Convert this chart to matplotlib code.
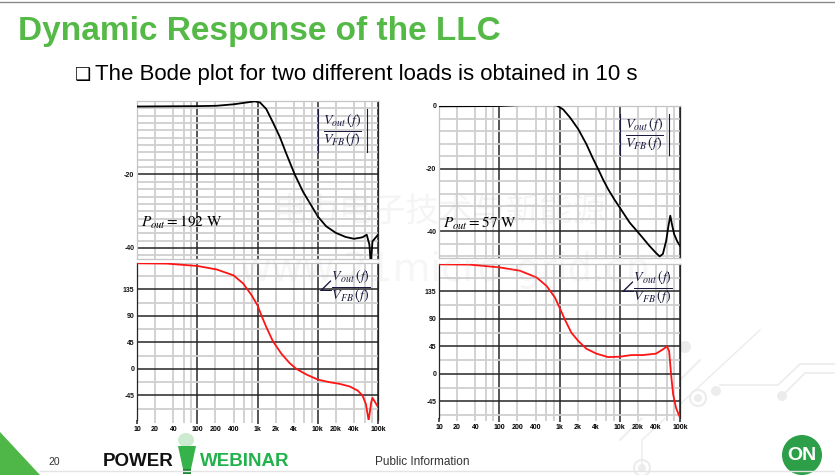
import numpy as np
import matplotlib.pyplot as plt
from matplotlib.ticker import FixedLocator, FixedFormatter, NullFormatter
from matplotlib.patches import Circle, Polygon, Rectangle, Ellipse

plt.rcParams['mathtext.fontset'] = 'stix'

W, H = 835, 475

# ---- data (Hz, dB / deg) ----
# Pout = 192 W
f_mag_192 = [10, 100, 210, 400, 660, 900, 1100, 1400, 1800, 2350, 3000, 4150, 5700, 7400,
             10000, 13800, 20000, 29000, 40000, 55000, 65000, 72000, 76000, 81000, 100000]
mag_192 = [-1.5, -1.4, -1.3, -0.9, -0.4, -0.1, -0.4, -2.2, -5.8, -9.8, -14.3, -20, -24.7, -27.8,
           -31.4, -34.1, -35.9, -37.0, -37.5, -37.1, -36.4, -39.1, -44.5, -38.2, -36.4]

f_ph_192 = [10, 31, 100, 210, 400, 580, 800, 1000, 1160, 1400, 1800, 2500, 3400, 4400, 6500,
            10000, 15600, 23000, 34000, 46000, 55000, 63000, 70000, 77000, 81000, 90000, 100000]
ph_192 = [179.5, 179, 175, 169, 159, 145, 125, 108, 91, 71, 47, 25.5, 10, 0, -9.7,
          -18.2, -22.7, -25.5, -30, -37, -45, -60, -88, -57, -49.4, -57, -65]

# Pout = 57 W
f_mag_57 = [10, 100, 220, 540, 900, 1150, 1500, 2050, 2800, 3500, 4400, 5300, 6400, 8000,
            10000, 14600, 21400, 31000, 40000, 46000, 52000, 59000, 64000, 69000, 74000,
            80000, 90000, 100000]
mag_57 = [-0.1, 0, 0.3, 0.5, 0.2, -1.1, -3.7, -7.4, -12.2, -16.3, -20.2, -23.5, -26.5, -29.6,
          -32.4, -37.2, -40.9, -44.6, -46.9, -48.0, -47.2, -43.0, -38.5, -35.0, -38.0,
          -40.9, -43.2, -44.6]

f_ph_57 = [10, 32, 100, 220, 415, 610, 840, 1000, 1220, 1570, 2050, 2800, 4100, 6400, 10000,
           15600, 24000, 40000, 52000, 61000, 66000, 72000, 77000, 86000, 100000]
ph_57 = [179.5, 179, 174.5, 169, 158, 144, 125, 108.7, 89.5, 67.5, 53.8, 41, 33, 27.4, 28,
         30.7, 30.7, 33, 40, 45, 37, -6.6, -34, -56, -72]

x_ticks_major = [10, 100, 1000, 10000, 100000]
x_labels_major = ['10', '100', '1k', '10k', '100k']
x_minor = [m * d for d in [10, 100, 1000, 10000] for m in (2, 4, 6, 8)]
x_minor_shown = (2, 4)

fig = plt.figure(figsize=(W / 100, H / 100), dpi=100)

# background layer in pixel coordinates
bg = fig.add_axes([0, 0, 1, 1], zorder=0)
bg.set_xlim(0, W)
bg.set_ylim(H, 0)
bg.axis('off')

deco = '#ececec'
bg.plot([0, W], [2, 2], color='#8a8a8a', lw=1)
bg.plot([40, W], [471, 471], color='#e4e4e4', lw=1)
# faint circuit traces
bg.plot([720, 778, 800, 835], [385, 385, 364, 364], color=deco, lw=1.2)
bg.plot([782, 805, 835], [396, 373, 373], color=deco, lw=1.2)
bg.plot([620, 663, 700], [440, 397, 360], color=deco, lw=1.2)
bg.plot([642, 642, 690, 760], [468, 440, 395, 330], color=deco, lw=1.0)
for cx, cy, r in [(685, 347, 6), (716, 391, 5), (782, 396, 5)]:
    bg.add_patch(Circle((cx, cy), r, color=deco, lw=0))
for cx, cy in [(698, 398), (663, 397), (642, 468)]:
    bg.add_patch(Circle((cx, cy), 8, fill=False, ec=deco, lw=1.5))
    bg.add_patch(Circle((cx, cy), 4, color=deco, lw=0))

# title & bullet
title_font = ['Liberation Sans Narrow', 'Liberation Sans', 'DejaVu Sans']
bg.text(18, 40, 'Dynamic Response of the LLC', color='#55b948', fontsize=24,
        fontweight='bold', family=title_font, va='baseline')
bg.text(75, 80, '\u2751', fontsize=13, family='DejaVu Sans', va='baseline', color='black')
bg.text(95, 80, 'The Bode plot for two different loads is obtained in 10 s', fontsize=16,
        family=title_font, va='baseline', color='black')

# footer
bg.add_patch(Polygon([(0, 432), (0, 475), (40, 475)], closed=True, color='#4fb747', lw=0))
bg.text(48, 465, '20', fontsize=7.5, family='Liberation Sans', va='baseline', color='#333333')
bg.text(103, 466, 'POWER', fontsize=13.5, fontweight='bold', family=title_font,
        va='baseline', color='#111111')
bg.text(200, 466, 'WEBINAR', fontsize=13.5, fontweight='bold', family=title_font,
        va='baseline', color='#21b24b')
bg.add_patch(Ellipse((186, 440), 16, 14, color='#cdebd1', lw=0))
bg.add_patch(Polygon([(178, 446), (196, 446), (191, 469), (183, 469)], closed=True,
                     color='#35b34a', lw=0))
bg.add_patch(Rectangle((183, 469), 8, 5, color='#1a8a34', lw=0))
bg.text(375, 465, 'Public Information', fontsize=8.5, family=title_font,
        va='baseline', color='#333333')
bg.add_patch(Circle((802, 455), 20, color='#2c9f48', lw=0))
bg.text(802, 456, 'ON', fontsize=14, fontweight='bold', family=title_font,
        color='white', ha='center', va='center')


def px_axes(x0, y0, x1, y1):
    return fig.add_axes([x0 / W, 1 - y1 / H, (x1 - x0) / W, (y1 - y0) / H], zorder=2)


def minor_label(v):
    e = int(np.floor(np.log10(v) + 1e-9))
    m = round(v / 10 ** e)
    if m not in x_minor_shown:
        return ''
    if v >= 1000:
        return f'{int(v / 1000)}k'
    return f'{int(v)}'


def bold_small(labels):
    for lab in labels:
        lab.set_fontweight('bold')
        lab.set_family('Liberation Sans')


def style(ax, ylim, ymajor, yminor, show_x):
    ax.set_xscale('log')
    ax.set_xlim(10, 100000)
    ax.set_ylim(*ylim)
    ax.xaxis.set_major_locator(FixedLocator(x_ticks_major))
    ax.xaxis.set_minor_locator(FixedLocator(x_minor))
    ax.yaxis.set_major_locator(FixedLocator(ymajor))
    ax.yaxis.set_minor_locator(FixedLocator(yminor))
    ax.yaxis.set_major_formatter(FixedFormatter([f'{v:g}' for v in ymajor]))
    ax.yaxis.set_minor_formatter(NullFormatter())
    ax.grid(True, which='minor', color='#cfcfcf', lw=1.3)
    ax.grid(True, which='major', color='#262626', lw=1.1)
    ax.set_axisbelow(True)
    for s in ax.spines.values():
        s.set_color('#c4c4c4')
        s.set_linewidth(0.9)
    ax.spines['right'].set_color('#262626')
    ax.tick_params(axis='y', which='both', length=0, pad=2, labelsize=5,
                   labelcolor='#111111')
    bold_small(ax.get_yticklabels())
    if show_x:
        ax.spines['left'].set_color('#262626')
        ax.spines['bottom'].set_visible(False)
        ax.xaxis.set_major_formatter(FixedFormatter(x_labels_major))
        ax.xaxis.set_minor_formatter(FixedFormatter([minor_label(v) for v in x_minor]))
        ax.tick_params(axis='x', which='major', length=3, width=1.1, color='#262626',
                       pad=1.5, labelsize=5)
        ax.tick_params(axis='x', which='minor', length=2, width=1.3, color='#cfcfcf',
                       pad=2.5, labelsize=5)
        bold_small(ax.get_xticklabels(which='both'))
    else:
        ax.xaxis.set_major_formatter(NullFormatter())
        ax.xaxis.set_minor_formatter(NullFormatter())
        ax.tick_params(axis='x', which='both', length=0)


mag_fmt = r'$\frac{V_{out}\,(f)}{V_{FB}\,(f)}$'
ph_fmt = r'$\angle\frac{V_{out}\,(f)}{V_{FB}\,(f)}$'
fcol = '#1a1a40'

panels = [
    # x0, x1, mag (y0, y1), phase (y0, y1), data, limits, label
    (137, 378, (101, 259), (263, 420), f_mag_192, mag_192, f_ph_192, ph_192,
     (-43, 0), [-20, -40], list(np.arange(-42, 1, 2)), (-87, 180), r'$P_{out}=192\ \mathrm{W}$'),
    (439, 680, (106, 258), (264, 418), f_mag_57, mag_57, f_ph_57, ph_57,
     (-48.5, 0), [0, -20, -40], list(np.arange(-48, 1, 4)), (-72.5, 180), r'$P_{out}=57\ \mathrm{W}$'),
]

for (x0, x1, my, py, fm, m, fp, p, mlim, mmaj, mmin, plim, plabel) in panels:
    axm = px_axes(x0, my[0], x1, my[1])
    style(axm, mlim, mmaj, mmin, False)
    axm.plot(fm, m, color='black', lw=1.3, zorder=3)
    axm.text(0.852, 0.815, mag_fmt, transform=axm.transAxes, fontsize=14.5, color=fcol,
             ha='center', va='center')
    # thin |..| bars around the magnitude expression
    for bx in (0.75, 0.955):
        axm.plot([bx, bx], [0.68, 0.95], transform=axm.transAxes, color=fcol, lw=0.8,
                 zorder=4)
    axm.text(0.015, 0.23, plabel, transform=axm.transAxes, fontsize=11, color='black',
             ha='left', va='center')

    axp = px_axes(x0, py[0], x1, py[1])
    style(axp, plim, [135, 90, 45, 0, -45], list(np.arange(-67.5, 181, 22.5)), True)
    axp.plot(fp, p, color='#ff1414', lw=1.3, zorder=3)
    axp.text(0.86, 0.85, ph_fmt, transform=axp.transAxes, fontsize=14.5, color=fcol,
             ha='center', va='center')

# faint watermark over the plots
wm = fig.add_axes([0, 0, 1, 1], zorder=5)
wm.set_xlim(0, W)
wm.set_ylim(H, 0)
wm.axis('off')
wm.patch.set_alpha(0)
wm.text(440, 211, '电力电子技术与新能源', fontsize=24, family=['Noto Sans CJK SC', 'DejaVu Sans'],
        color='#bbbbbb', alpha=0.15, ha='center', va='center')
wm.text(445, 270, 'www.21micro-grid.cn', fontsize=28, family='DejaVu Sans',
        color='#bbbbbb', alpha=0.12, ha='center', va='center')

fig.savefig('out.png', dpi=100)
